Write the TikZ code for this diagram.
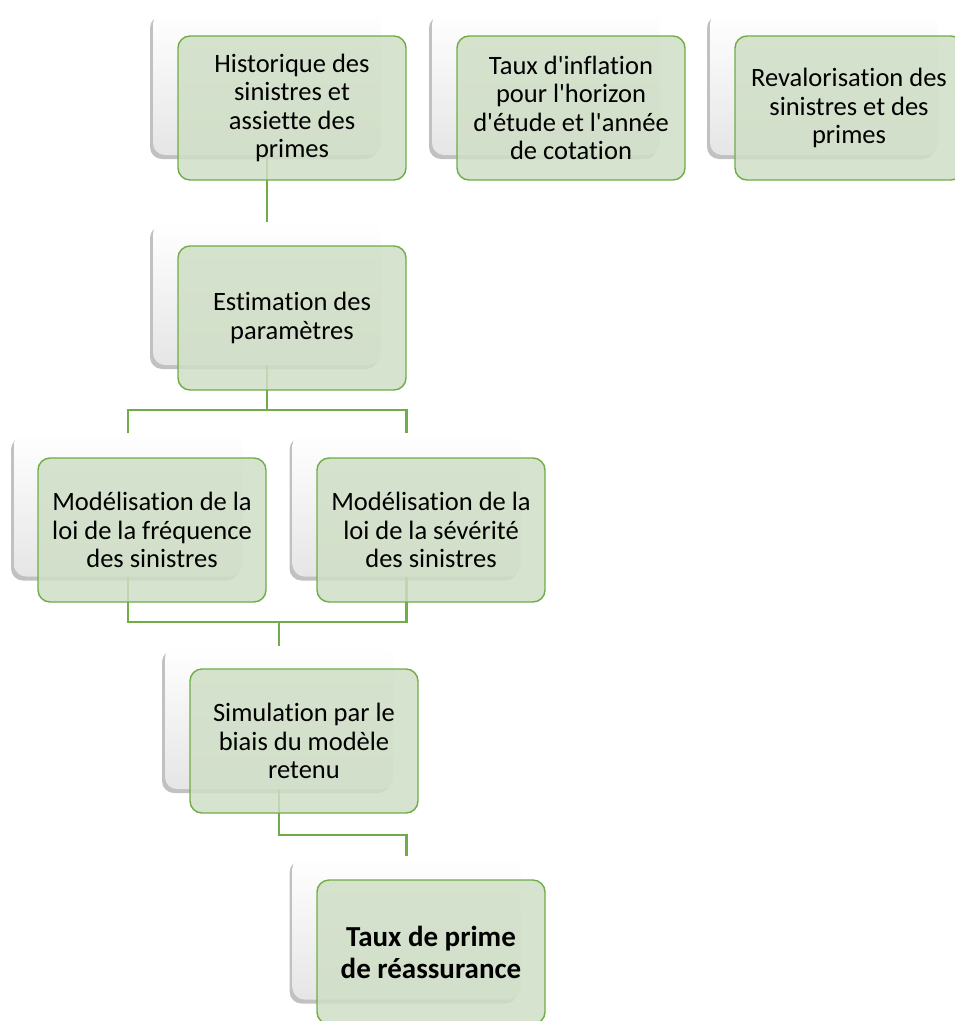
\documentclass[tikz,border=0pt]{standalone}
\usepackage{fontspec}
\setmainfont{Carlito}[Ligatures={TeXOff,CommonOff}]
\usepackage{tikz}
\usetikzlibrary{shadows}
\definecolor{vertbord}{RGB}{112,173,71}
\definecolor{vertfond}{RGB}{207,222,197}

\begin{document}
\begin{tikzpicture}[x=1pt,y=-1pt,
    carte/.style={rectangle,rounded corners=12pt,minimum width=228pt,minimum height=143pt,
        top color=white,middle color=white,bottom color=black!10,
        drop shadow={shadow xshift=-3pt,shadow yshift=-4pt,opacity=0.35,fill=black!70}},
    fiche/.style={rectangle,rounded corners=12pt,minimum width=228pt,minimum height=144pt,
        draw=vertbord,line width=1.4pt,fill=vertfond,fill opacity=0.85,text opacity=1,
        align=center,font=\fontsize{26.5pt}{28.5pt}\selectfont},
    lien/.style={draw=vertbord,line width=2.8pt}]
    \useasboundingbox (0,0) rectangle (955,1021);

    % Back cards
    \node[carte] (b1) at (267,83.5) {};
    \node[carte] (b1m) at (546,83.5) {};
    \node[carte] (b1r) at (824,83.5) {};
    \node[carte] (b2) at (267,293.5) {};
    \node[carte] (b3a) at (128,505) {};
    \node[carte] (b3b) at (406.5,505) {};
    \node[carte] (b4) at (279,717.5) {};
    \node[carte] (b5) at (406.5,928) {};

    % Connectors
    \coordinate (m2) at (267,410);
    \coordinate (m3) at (279,622);
    \coordinate (m4) at (279,835);
    \draw[lien] (b1.south) -- (b2.north);
    \draw[lien] (b2.south) -- (m2);
    \draw[lien] (b3a.north) |- (m2) -| (b3b.north);
    \draw[lien] (b3a.south) |- (m3) -| (b3b.south);
    \draw[lien] (m3) -- (b4.north);
    \draw[lien] (b4.south) -- (m4) -| (b5.north);

    % Front cards
    \node[fiche] (f1) at (292,108) {Historique des\\sinistres et\\assiette des\\primes};
    \node[fiche] (f1m) at (571,108) {Taux d'inflation\\pour l'horizon\\d'étude et l'année\\de cotation};
    \node[fiche] (f1r) at (849,108) {Revalorisation des\\sinistres et des\\primes};
    \node[fiche] (f2) at (292,318) {Estimation des\\paramètres};
    \node[fiche] (f3a) at (152,530) {Modélisation de la\\loi de la fréquence\\des sinistres};
    \node[fiche] (f3b) at (431,530) {Modélisation de la\\loi de la sévérité\\des sinistres};
    \node[fiche] (f4) at (304,741) {Simulation par le\\biais du modèle\\retenu};
    \node[fiche,font=\fontsize{29pt}{32pt}\selectfont\bfseries] (f5) at (431,952) {Taux de prime\\de réassurance};
\end{tikzpicture}
\end{document}
